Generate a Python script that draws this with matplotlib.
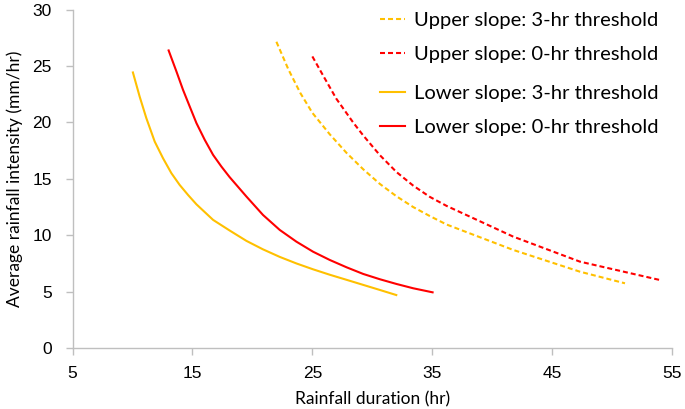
import matplotlib
matplotlib.use("Agg")
import matplotlib.pyplot as plt

GOLD, RED = "#FFC000", "#FF0000"
SPINE = "#BFBFBF"

# values (duration hr, intensity mm/hr)
up3_x = [22.0, 23.0, 24.0, 25.0, 26.45, 27.85, 29.24, 30.63, 32.02, 33.41, 34.8, 36.2, 41.75, 47.32, 51.08]
up3_y = [27.15, 24.7, 22.6, 20.85, 18.95, 17.3, 15.85, 14.55, 13.45, 12.5, 11.7, 10.95, 8.70, 6.77, 5.74]

up0_x = [25.0, 25.9, 27.0, 28.4, 29.24, 30.63, 32.02, 33.41, 34.8, 36.2, 41.75, 47.32, 54.0]
up0_y = [25.85, 24.15, 22.1, 20.0, 18.85, 17.1, 15.6, 14.4, 13.4, 12.6, 9.88, 7.66, 6.03]

lo3_x = [10.03, 10.59, 11.15, 11.85, 12.54, 13.24, 13.93, 14.63, 15.33, 16.72, 18.1,
         19.5, 20.88, 22.28, 23.67, 25.06, 26.45, 27.85, 29.24, 30.63, 32.0]
lo3_y = [24.43, 22.3, 20.38, 18.3, 16.83, 15.5, 14.46, 13.57, 12.74, 11.36, 10.42,
         9.5, 8.75, 8.08, 7.5, 6.98, 6.5, 6.05, 5.6, 5.15, 4.70]

lo0_x = [13.01, 13.66, 14.21, 14.77, 15.33, 16.02, 16.72, 17.41, 18.1, 19.5, 20.88,
         22.28, 23.67, 25.06, 26.45, 27.85, 29.24, 30.63, 32.02, 33.41, 35.03]
lo0_y = [26.38, 24.52, 22.89, 21.41, 19.94, 18.46, 17.12, 16.09, 15.15, 13.43, 11.8,
         10.47, 9.43, 8.54, 7.81, 7.16, 6.57, 6.1, 5.68, 5.3, 4.94]

x_ticks = [5, 15, 25, 35, 45, 55]
y_ticks = [0, 5, 10, 15, 20, 25, 30]

fig = plt.figure(figsize=(6.85, 4.09), dpi=100)
ax = fig.add_axes([0.106, 0.149, 0.875, 0.8275])

dash = (2.4, 1.45)
h1, = ax.plot(up3_x, up3_y, color=GOLD, lw=1.5, dashes=dash, label="Upper slope: 3-hr threshold")
h2, = ax.plot(up0_x, up0_y, color=RED, lw=1.5, dashes=dash, label="Upper slope: 0-hr threshold")
h3, = ax.plot(lo3_x, lo3_y, color=GOLD, lw=1.5, label="Lower slope: 3-hr threshold")
h4, = ax.plot(lo0_x, lo0_y, color=RED, lw=1.5, label="Lower slope: 0-hr threshold")

ax.set_xlim(5, 55)
ax.set_ylim(0, 30)
ax.set_xticks(x_ticks)
ax.set_yticks(y_ticks)
for s in ("top", "right"):
    ax.spines[s].set_visible(False)
for s in ("left", "bottom"):
    ax.spines[s].set_color(SPINE)
    ax.spines[s].set_linewidth(1.0)
ax.tick_params(axis="both", colors=SPINE, length=5, width=1.0, labelcolor="black",
               labelsize=12.5)
ax.tick_params(axis="y", pad=10)
ax.tick_params(axis="x", pad=8)
for lab in ax.get_xticklabels() + ax.get_yticklabels():
    lab.set_family("Liberation Sans")

ax.set_xlabel("Rainfall duration (hr)", family="Lato", fontsize=12.5, labelpad=7)
ax.set_ylabel("Average rainfall intensity (mm/hr)", family="Lato", fontsize=12.5, labelpad=6.5)

# legend in two blocks: the reference leaves a wider gap between upper and lower entries
leg_kw = dict(loc="upper left", frameon=False, prop={"family": "Lato", "size": 14.5},
              handlelength=1.25, handletextpad=0.45, labelspacing=0.85,
              borderpad=0, borderaxespad=0, bbox_transform=fig.transFigure)
leg1 = ax.legend(handles=[h1, h2], bbox_to_anchor=(380 / 685, 1 - 12 / 409), **leg_kw)
ax.add_artist(leg1)
ax.legend(handles=[h3, h4], bbox_to_anchor=(380 / 685, 1 - 85 / 409), **leg_kw)

fig.savefig("out.png", dpi=100)
